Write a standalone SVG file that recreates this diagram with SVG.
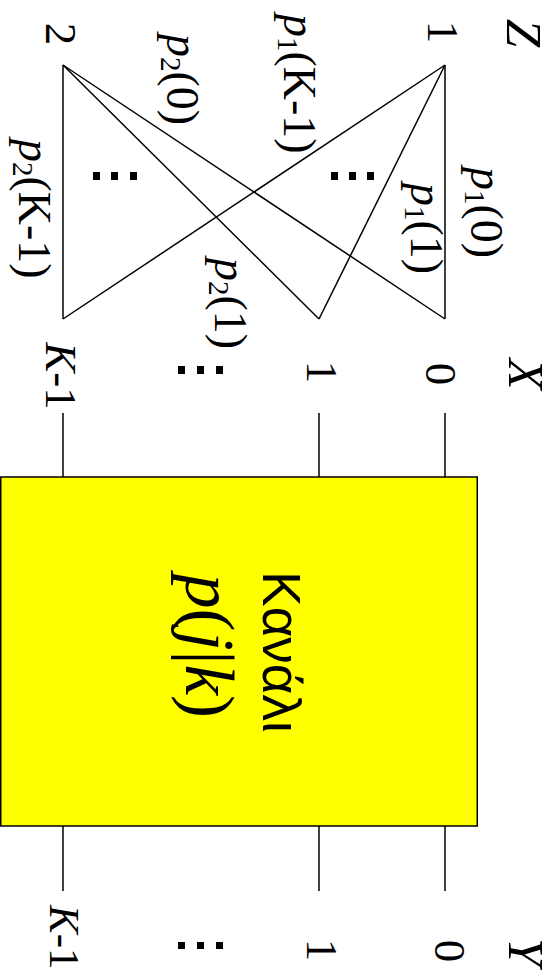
<svg xmlns="http://www.w3.org/2000/svg" width="554" height="970" viewBox="0 0 554 970">
<style>
.s{font-family:"Liberation Serif","Times New Roman",serif;fill:#000}
.i{font-style:italic}
.sans{font-family:"Liberation Sans",Arial,sans-serif;fill:#000}
.ln{stroke:#000;stroke-width:1.5;fill:none}
.dot{fill:#000}
</style>
<rect width="554" height="970" fill="#fff"/>
<g id="connectors" class="ln">
<line x1="445" y1="65" x2="445" y2="319"/>
<line x1="445" y1="65" x2="319" y2="319"/>
<line x1="445" y1="65" x2="63" y2="319"/>
<line x1="63" y1="65" x2="445" y2="319"/>
<line x1="63" y1="65" x2="319" y2="319"/>
<line x1="63" y1="65" x2="63" y2="319"/>
<line x1="445" y1="413" x2="445" y2="477"/>
<line x1="319" y1="413" x2="319" y2="477"/>
<line x1="63" y1="413" x2="63" y2="477"/>
<line x1="445" y1="826" x2="445" y2="891"/>
<line x1="319" y1="826" x2="319" y2="891"/>
<line x1="63" y1="826" x2="63" y2="891"/>
</g>
<g id="channel">
<rect x="0.75" y="477" width="476.5" height="349" fill="#ffff00" stroke="#000" stroke-width="1.5"/>
<text class="sans" font-size="53" text-anchor="middle" transform="translate(263,652) rotate(90)">Kανάλι</text>
<text class="s" font-size="69" text-anchor="middle" transform="translate(186,646) rotate(90)"><tspan class="i">p</tspan>(<tspan class="i">j</tspan>|<tspan class="i">k</tspan>)</text>
</g>
<g id="Z">
<text class="s i" font-size="51" text-anchor="middle" transform="translate(507,33) rotate(90)">Z</text>
<text class="s" font-size="45" text-anchor="middle" transform="translate(428,32) rotate(90)">1</text>
<text class="s" font-size="45" text-anchor="middle" transform="translate(46,34) rotate(90)">2</text>
</g>
<g id="X">
<text class="s i" font-size="51" text-anchor="middle" transform="translate(509,374) rotate(90)">X</text>
<text class="s" font-size="45" text-anchor="middle" transform="translate(426,374) rotate(90)">0</text>
<text class="s" font-size="45" text-anchor="middle" transform="translate(307,372) rotate(90)">1</text>
<text class="s" font-size="45" text-anchor="middle" transform="translate(46,376) rotate(90)"><tspan class="i">K</tspan>-1</text>
<rect class="dot" x="178" y="366" width="7" height="8"/>
<rect class="dot" x="197" y="366" width="7" height="8"/>
<rect class="dot" x="216" y="366" width="7" height="8"/>
</g>
<g id="Y">
<text class="s i" font-size="51" transform="translate(509,938) rotate(90)">Y</text>
<text class="s" font-size="45" text-anchor="middle" transform="translate(435,951) rotate(90)">0</text>
<text class="s" font-size="45" text-anchor="middle" transform="translate(307,950) rotate(90)">1</text>
<text class="s" font-size="43" transform="translate(50,905) rotate(90)"><tspan class="i">K</tspan>-1</text>
<rect class="dot" x="178" y="942" width="7" height="7"/>
<rect class="dot" x="197" y="942" width="7" height="7"/>
<rect class="dot" x="216" y="942" width="7" height="7"/>
</g>
<g id="labels">
<text class="s" font-size="46" transform="translate(284,14) rotate(90)"><tspan class="i">p</tspan><tspan font-size="29" dy="6">1</tspan><tspan dy="-6">(K-1)</tspan></text>
<text class="s" font-size="46" transform="translate(167,34) rotate(90)"><tspan class="i">p</tspan><tspan font-size="29" dy="6">2</tspan><tspan dy="-6">(0)</tspan></text>
<text class="s" font-size="46" transform="translate(19,139) rotate(90)"><tspan class="i">p</tspan><tspan font-size="29" dy="6">2</tspan><tspan dy="-6">(K-1)</tspan></text>
<text class="s" font-size="46" transform="translate(471,167) rotate(90)"><tspan class="i">p</tspan><tspan font-size="29" dy="6">1</tspan><tspan dy="-6">(0)</tspan></text>
<text class="s" font-size="46" transform="translate(411,183) rotate(90)"><tspan class="i">p</tspan><tspan font-size="29" dy="6">1</tspan><tspan dy="-6">(1)</tspan></text>
<text class="s" font-size="46" transform="translate(215,258) rotate(90)"><tspan class="i">p</tspan><tspan font-size="29" dy="6">2</tspan><tspan dy="-6">(1)</tspan></text>
<rect class="dot" x="331" y="172" width="7" height="8"/>
<rect class="dot" x="349" y="172" width="7" height="8"/>
<rect class="dot" x="367" y="172" width="7" height="8"/>
<rect class="dot" x="93" y="172" width="7" height="8"/>
<rect class="dot" x="111" y="172" width="7" height="8"/>
<rect class="dot" x="130" y="172" width="7" height="8"/>
</g>
</svg>
